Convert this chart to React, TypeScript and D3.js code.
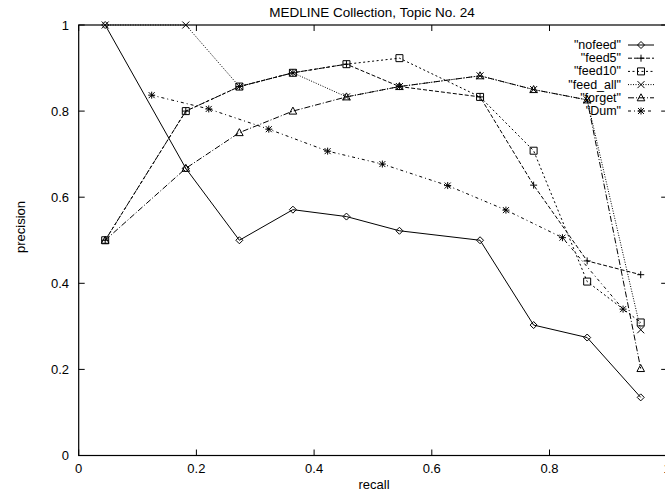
import * as d3 from "d3";
import React, { useEffect, useRef } from "react";

// recall levels (x)
const recallMain = [0.045, 0.182, 0.273, 0.364, 0.455, 0.545, 0.682, 0.773, 0.864, 0.955];
const recallAll = [0.045, 0.182, 0.273, 0.364, 0.455, 0.545, 0.682, 0.773, 0.864, 0.955];
const recallDum = [0.124, 0.221, 0.323, 0.423, 0.516, 0.627, 0.726, 0.822, 0.925];

const nofeed = [1.0, 0.667, 0.5, 0.571, 0.555, 0.522, 0.5, 0.303, 0.274, 0.135];
const feed5 = [0.5, 0.8, 0.857, 0.889, 0.909, 0.857, 0.833, 0.628, 0.452, 0.42];
const feed10 = [0.5, 0.8, 0.857, 0.889, 0.909, 0.923, 0.833, 0.708, 0.404, 0.309];
const feedAll = [1.0, 1.0, 0.857, 0.889, 0.833, 0.857, 0.882, 0.85, 0.826, 0.292];
const forget = [0.5, 0.667, 0.75, 0.8, 0.833, 0.857, 0.882, 0.85, 0.826, 0.202];
const dum = [0.837, 0.805, 0.758, 0.707, 0.677, 0.627, 0.57, 0.506, 0.34];

const ticks = [0, 0.2, 0.4, 0.6, 0.8, 1];
const tickLabels = ["0", "0.2", "0.4", "0.6", "0.8", "1"];

const series = [
  { name: '"nofeed"', x: recallMain, y: nofeed, dash: null, marker: "diamond" },
  { name: '"feed5"', x: recallMain, y: feed5, dash: "4,2", marker: "plus" },
  { name: '"feed10"', x: recallMain, y: feed10, dash: "2,2.5", marker: "square" },
  { name: '"feed_all"', x: recallAll, y: feedAll, dash: "1,1.5", marker: "cross" },
  { name: '"forget"', x: recallMain, y: forget, dash: "6,2,1,2", marker: "triangle" },
  { name: '"Dum"', x: recallDum, y: dum, dash: "3,3,1,3", marker: "star" },
];

const markerPath = (type) => {
  const s = 3.5;
  switch (type) {
    case "diamond":
      return `M0,${-s}L${s},0L0,${s}L${-s},0Z`;
    case "plus":
      return `M${-s},0H${s}M0,${-s}V${s}`;
    case "square":
      return `M${-s},${-s}H${s}V${s}H${-s}Z`;
    case "cross":
      return `M${-s},${-s}L${s},${s}M${-s},${s}L${s},${-s}`;
    case "triangle":
      return `M0,${-s - 0.5}L${s + 0.3},${s - 0.5}L${-s - 0.3},${s - 0.5}Z`;
    default:
      return `M${-s},0H${s}M0,${-s}V${s}M${-3},${-3}L3,3M-3,3L3,-3`;
  }
};

const App = () => {
  const svgRef = useRef(null);

  const width = 665;
  const height = 492;
  const left = 78.7;
  const right = 667.2;
  const top = 25;
  const bottom = 455.5;
  const font = "Liberation Sans, Arial, Helvetica, sans-serif";

  useEffect(() => {
    const svg = d3.select(svgRef.current);
    svg.selectAll("*").remove();

    const xScale = d3.scaleLinear().domain([0, 1]).range([left, right]);
    const yScale = d3.scaleLinear().domain([0, 1]).range([bottom, top]);

    // border
    svg.append("rect")
      .attr("x", left).attr("y", top)
      .attr("width", right - left).attr("height", bottom - top)
      .attr("fill", "none").attr("stroke", "#000").attr("stroke-width", 1.2);

    // ticks (mirrored, inward)
    const tl = 6;
    ticks.forEach((t, i) => {
      const x = xScale(t);
      const y = yScale(t);
      svg.append("line").attr("x1", x).attr("x2", x).attr("y1", bottom).attr("y2", bottom - tl).attr("stroke", "#000");
      svg.append("line").attr("x1", x).attr("x2", x).attr("y1", top).attr("y2", top + tl).attr("stroke", "#000");
      svg.append("line").attr("x1", left).attr("x2", left + tl).attr("y1", y).attr("y2", y).attr("stroke", "#000");
      svg.append("line").attr("x1", right).attr("x2", right - tl).attr("y1", y).attr("y2", y).attr("stroke", "#000");

      svg.append("text")
        .attr("x", x).attr("y", 468)
        .attr("text-anchor", "middle").attr("dominant-baseline", "central")
        .style("font", `13px ${font}`)
        .text(tickLabels[i]);
      svg.append("text")
        .attr("x", 69).attr("y", y)
        .attr("text-anchor", "end").attr("dominant-baseline", "central")
        .style("font", `13px ${font}`)
        .text(tickLabels[i]);
    });

    svg.append("text")
      .attr("x", 372).attr("y", 12)
      .attr("text-anchor", "middle").attr("dominant-baseline", "central")
      .style("font", `13.5px ${font}`)
      .text("MEDLINE Collection, Topic No. 24");

    svg.append("text")
      .attr("x", 374).attr("y", 484)
      .attr("text-anchor", "middle").attr("dominant-baseline", "central")
      .style("font", `13px ${font}`)
      .text("recall");

    svg.append("text")
      .attr("transform", "translate(20,227) rotate(-90)")
      .attr("text-anchor", "middle").attr("dominant-baseline", "central")
      .style("font", `13px ${font}`)
      .text("precision");

    const line = d3.line().x((d) => xScale(d[0])).y((d) => yScale(d[1]));

    series.forEach((s) => {
      const pts = s.x.map((x, i) => [x, s.y[i]]);
      svg.append("path")
        .attr("d", line(pts))
        .attr("fill", "none")
        .attr("stroke", "#000")
        .attr("stroke-width", 1)
        .attr("stroke-dasharray", s.dash);
      svg.selectAll(null)
        .data(pts)
        .enter()
        .append("path")
        .attr("transform", (d) => `translate(${xScale(d[0])},${yScale(d[1])})`)
        .attr("d", markerPath(s.marker))
        .attr("fill", "none")
        .attr("stroke", "#000")
        .attr("stroke-width", 1);
    });

    // legend
    series.forEach((s, i) => {
      const y = 45 + i * 13.2;
      svg.append("text")
        .attr("x", 621).attr("y", y)
        .attr("text-anchor", "end").attr("dominant-baseline", "central")
        .style("font", `12.5px ${font}`)
        .text(s.name);
      svg.append("line")
        .attr("x1", 628).attr("x2", 654).attr("y1", y).attr("y2", y)
        .attr("stroke", "#000").attr("stroke-width", 1)
        .attr("stroke-dasharray", s.dash);
      svg.append("path")
        .attr("transform", `translate(641,${y})`)
        .attr("d", markerPath(s.marker))
        .attr("fill", "none").attr("stroke", "#000").attr("stroke-width", 1);
    });
  }, []);

  return (
    <svg
      ref={svgRef}
      width={width}
      height={height}
      style={{ position: "absolute", left: 0, top: 0, background: "#fff" }}
    />
  );
};

export default App;
